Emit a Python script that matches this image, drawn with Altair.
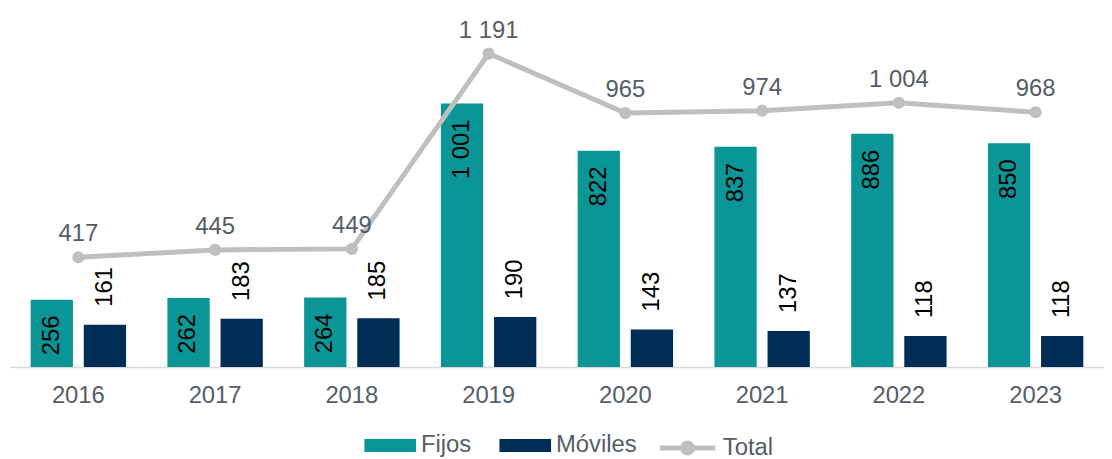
import altair as alt
import pandas as pd

years = ["2016", "2017", "2018", "2019", "2020", "2021", "2022", "2023"]
fijos = [256, 262, 264, 1001, 822, 837, 886, 850]
moviles = [161, 183, 185, 190, 143, 137, 118, 118]
total = [417, 445, 449, 1191, 965, 974, 1004, 968]
series = ["Fijos", "Móviles"]


def fmt(v):
    return f"{v:,}".replace(",", " ")


bars_df = pd.DataFrame({
    "year": years * 2,
    "serie": [series[0]] * len(years) + [series[1]] * len(years),
    "value": fijos + moviles,
})
bars_df["label"] = bars_df["value"].map(fmt)
tot_df = pd.DataFrame({
    "year": years,
    "serie": ["Total"] * len(years),
    "value": total,
    "label": [fmt(v) for v in total],
})

FONT = "Liberation Sans"
TEXT = "#555D66"
TEAL = "#0A9696"
NAVY = "#002D55"
GRAY = "#BFBFBF"

x = alt.X(
    "year:N", sort=years, title=None,
    scale=alt.Scale(paddingInner=0, paddingOuter=0),
    axis=alt.Axis(labelAngle=0, ticks=False, tickSize=0, domainColor="#D9D9D9",
                  domainWidth=1.5, labelFontSize=24, labelColor=TEXT, labelFont=FONT,
                  labelPadding=29, labelBaseline="middle", grid=False),
)
y = alt.Y("value:Q", scale=alt.Scale(domain=[0, 1358]), axis=None)
xoff = alt.XOffset("serie:N", sort=series,
                   scale=alt.Scale(paddingInner=0.204, paddingOuter=0.389))

bar_legend = alt.Legend(
    title=None, orient="none", legendX=357, legendY=413, direction="horizontal",
    symbolType="M-1,-0.25H1V0.25H-1Z", symbolSize=2704, symbolStrokeWidth=0,
    labelFontSize=24, labelFont=FONT, labelColor=TEXT, labelOffset=5, columnPadding=28,
)
line_legend = alt.Legend(
    title=None, orient="none", legendX=652, legendY=411, direction="horizontal",
    symbolType=("M-1,0H1 M0.09,0A0.09,0.09 0 1 1 -0.09,0A0.09,0.09 0 1 1 0.09,0 "
                "M0.18,0A0.18,0.18 0 1 1 -0.18,0A0.18,0.18 0 1 1 0.18,0"),
    symbolSize=3136, symbolStrokeWidth=5, symbolFillColor=GRAY,
    labelFontSize=24, labelFont=FONT, labelColor=TEXT, labelOffset=5,
)

bars = alt.Chart(bars_df).mark_bar().encode(
    x=x, xOffset=xoff, y=y,
    color=alt.Color("serie:N", scale=alt.Scale(domain=series, range=[TEAL, NAVY]),
                    legend=bar_legend),
)

fij_text = alt.Chart(bars_df).transform_filter(
    alt.datum.serie == "Fijos"
).mark_text(angle=270, align="right", baseline="middle", dx=-16, fontSize=24,
            font=FONT, color="#000000").encode(x=x, xOffset=xoff, y=y, text="label:N")

mov_text = alt.Chart(bars_df).transform_filter(
    alt.datum.serie == "Móviles"
).mark_text(angle=270, align="left", baseline="middle", dx=18, fontSize=24,
            font=FONT, color="#000000").encode(x=x, xOffset=xoff, y=y, text="label:N")

line = alt.Chart(tot_df).mark_line(strokeWidth=5).encode(
    x=x, y=y,
    stroke=alt.Stroke("serie:N", scale=alt.Scale(domain=["Total"], range=[GRAY]),
                      legend=line_legend),
)
points = alt.Chart(tot_df).mark_circle(size=150, color=GRAY, opacity=1).encode(x=x, y=y)
tot_text = alt.Chart(tot_df).mark_text(dy=-23, fontSize=24, font=FONT, color=TEXT,
                                       baseline="middle").encode(x=x, y=y, text="label:N")

chart = alt.layer(bars, fij_text, mov_text, line, points, tot_text).properties(
    width=1102, height=360,
    padding={"left": 2, "top": 0, "right": 0, "bottom": 91},
    autosize=alt.AutoSizeParams(type="none"),
).configure_view(stroke=None)

chart.save("out.html", embed_options={"renderer": "svg", "actions": False})
